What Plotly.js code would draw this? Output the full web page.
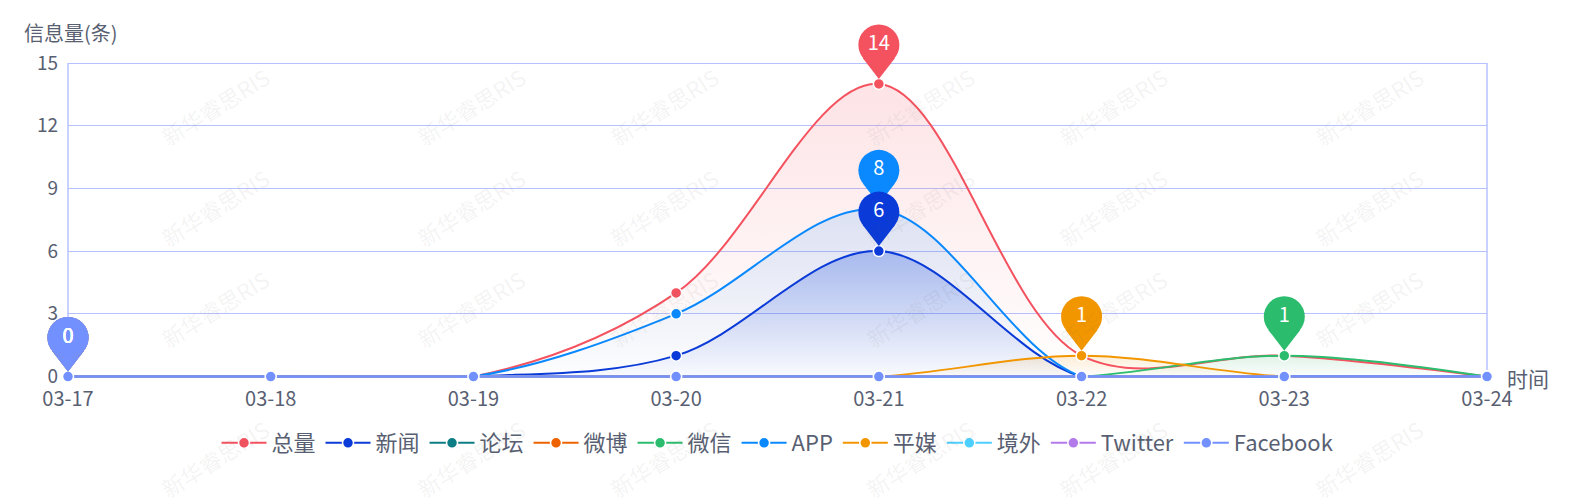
<!DOCTYPE html>
<html><head><meta charset="utf-8">
<script src="https://cdn.plot.ly/plotly-3.0.1.min.js"></script>
<style>html,body{margin:0;padding:0;background:#fff}#chart{width:1575px;height:500px}</style>
</head><body><div id="chart"></div>
<script>
// ---- data ----
const dates = ['03-17','03-18','03-19','03-20','03-21','03-22','03-23','03-24'];
const seriesNames = ['总量','新闻','论坛','微博','微信','APP','平媒','境外','Twitter','Facebook'];
const total    = [0,0,0,4,14,1,1,0];
const news     = [0,0,0,1,6,0,0,0];
const forum    = [0,0,0,0,0,0,0,0];
const weibo    = [0,0,0,0,0,0,0,0];
const wechat   = [0,0,0,0,0,0,1,0];
const app      = [0,0,0,3,8,0,0,0];
const print    = [0,0,0,0,0,1,0,0];
const overseas = [0,0,0,0,0,0,0,0];
const twitter  = [0,0,0,0,0,0,0,0];
const facebook = [0,0,0,0,0,0,0,0];
const yTicks   = [0,3,6,9,12,15];
const seriesValues = [total, news, forum, weibo, wechat, app, print, overseas, twitter, facebook];

// ---- style ----
const colors = ['#f4525f','#0a3bd8','#0c7d85','#ee6200','#2bbc6e','#0a89ff','#f29600','#4dcfff','#b27be9','#7390ff'];
const fillAlpha = [0.16,0.28,0.2,0.2,0.15,0.14,0.15,0.2,0.2,0.2];
const font = 'Noto Sans CJK SC, Noto Sans, sans-serif';
const textColor = '#595f72';
const gridColor = '#b6c2ff';
const W = 1575, H = 500;
const M = {l:68, r:88, t:8, b:122};
const mainTopPx = 63;                       // pixel row of the top tick
const areaW = W - M.l - M.r, areaH = H - M.t - M.b;
const mainH = H - M.b - mainTopPx;
const yMin = -0.07, yTop = yTicks[yTicks.length-1];
const pxPerUnit = mainH / (yTop - yMin);
const totalUnits = areaH / pxPerUnit;
const pinCenterPx = 39, pinNeckPx = 19;

function rgba(hex, a){
  const n = parseInt(hex.slice(1),16);
  return 'rgba(' + ((n>>16)&255) + ',' + ((n>>8)&255) + ',' + (n&255) + ',' + a + ')';
}
const px2x = px => (px - M.l) / areaW;
const py2y = py => (H - M.b - py) / areaH;

const traces = [];
// area fills
seriesNames.forEach((name, i) => {
  const vals = seriesValues[i];
  if (Math.max(...vals) <= 0) return;
  traces.push({
    type:'scatter', x: dates, y: vals, mode:'none', fill:'tozeroy',
    line:{shape:'spline', smoothing:1},
    fillgradient:{type:'vertical', colorscale:[[0, rgba(colors[i],0)],[1, rgba(colors[i],fillAlpha[i])]]},
    showlegend:false, hoverinfo:'skip'
  });
});
// lines
seriesNames.forEach((name, i) => {
  traces.push({
    type:'scatter', x: dates, y: seriesValues[i], name: name, mode:'lines+markers',
    line:{shape:'spline', smoothing:1, color: colors[i], width:2},
    marker:{size:11, color: colors[i], line:{color:'#fff', width:1.5}},
    cliponaxis:false, hoverinfo:'skip'
  });
});
// max pins
const pins = seriesNames.map((name, i) => {
  const vals = seriesValues[i];
  const mx = Math.max(...vals);
  return {i, x: dates[vals.indexOf(mx)], v: mx};
}).sort((a,b) => b.v - a.v);
traces.push({
  type:'scatter', x: pins.map(p=>p.x), y: pins.map(p=>p.v), yaxis:'y2', mode:'markers',
  marker:{symbol:'triangle-down', size:28, color: pins.map(p=>colors[p.i]), line:{width:0}},
  cliponaxis:false, showlegend:false, hoverinfo:'skip'
});
traces.push({
  type:'scatter', x: pins.map(p=>p.x), y: pins.map(p=>p.v), yaxis:'y3', mode:'markers+text',
  text: pins.map(p=>String(p.v)), textposition:'middle center',
  textfont:{family:font, size:20, color:'#ffffff'},
  marker:{symbol:'circle', size:41, color: pins.map(p=>colors[p.i]), line:{width:0}},
  cliponaxis:false, showlegend:false, hoverinfo:'skip'
});

// watermark
const annotations = [];
for (let j = 0; j < 4; j++) {
  for (let k = 0; k < 6; k++) {
    annotations.push({
      xref:'paper', yref:'paper', x: px2x(152 + 256*k), y: py2y(57 + 150*j),
      text:'新华睿思RIS', showarrow:false, textangle:-32,
      font:{family:font, size:22, color:'rgba(90,90,90,0.08)'}
    });
  }
}
annotations.push({
  xref:'paper', yref:'paper', x: px2x(22), y: py2y(32), xanchor:'left', yanchor:'middle',
  text:'信息量(条)', showarrow:false, font:{family:font, size:20, color:textColor}
});
annotations.push({
  xref:'paper', yref:'paper', x: 1, xshift:18, y: py2y(378), xanchor:'left', yanchor:'middle',
  text:'时间', showarrow:false, font:{family:font, size:21, color:textColor}
});

// left / right frame lines of the value area
const shapes = [0, 1].map(xp => ({
  type:'line', xref:'paper', x0:xp, x1:xp, yref:'y', y0:0, y1:yTop,
  line:{color:gridColor, width:1.5}, layer:'below'
}));

const layout = {
  width: W, height: H, margin: M,
  paper_bgcolor:'#fff', plot_bgcolor:'rgba(0,0,0,0)',
  font:{family:font, color:textColor},
  showlegend:true,
  xaxis:{type:'category', range:[0, dates.length-1], showgrid:false, zeroline:false, showline:false,
    ticks:'', tickfont:{size:20, color:textColor}, ticklabelstandoff:7, fixedrange:true},
  yaxis:{domain:[0,1], range:[yMin, yMin + totalUnits], tickvals:yTicks, showgrid:true, gridcolor:gridColor, gridwidth:1,
    zeroline:false, showline:false,
    ticks:'', tickfont:{size:19, color:textColor}, ticklabelstandoff:9, fixedrange:true},
  yaxis2:{overlaying:'y', range:[yMin - pinNeckPx/pxPerUnit, yMin + totalUnits - pinNeckPx/pxPerUnit], visible:false, fixedrange:true},
  yaxis3:{overlaying:'y', range:[yMin - pinCenterPx/pxPerUnit, yMin + totalUnits - pinCenterPx/pxPerUnit], visible:false, fixedrange:true},
  legend:{orientation:'h', x:0.5, xanchor:'center', y: py2y(443), yanchor:'middle',
    font:{family:font, size:22, color:textColor}, itemwidth:45, bgcolor:'rgba(0,0,0,0)'},
  shapes: shapes,
  annotations: annotations,
  hovermode:false
};
Plotly.newPlot('chart', traces, layout, {staticPlot:true, displayModeBar:false});
</script>
</body></html>
